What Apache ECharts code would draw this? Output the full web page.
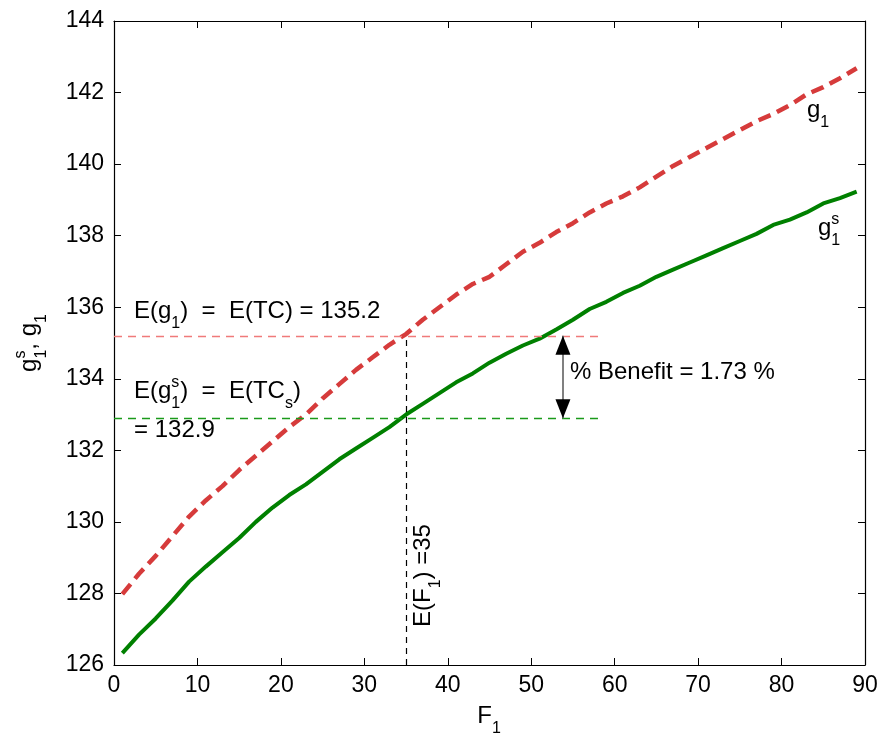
<!DOCTYPE html>
<html>
<head>
<meta charset="utf-8">
<style>
  html, body { margin: 0; padding: 0; background: #fff; }
  #chart { width: 881px; height: 741px; }
</style>
<script src="https://cdn.jsdelivr.net/npm/echarts@6/dist/echarts.min.js"></script>
</head>
<body>
<div id="chart"></div>
<script>
// Sample points of the demand variable F1
const F1 = [1, 3, 5, 7, 9, 11, 13, 15, 17, 19, 21, 23, 25, 27, 29, 31, 33, 35, 37, 39, 41, 43, 45,
            47, 49, 51, 53, 55, 57, 59, 61, 63, 65, 67, 69, 71, 73, 75, 77, 79, 81, 83, 85, 87, 89];

// g1 : cost without sharing
const G1 = [127.98, 128.55, 129.05, 129.6, 130.15, 130.6, 131.0, 131.45, 131.85, 132.25, 132.65, 133.0,
            133.45, 133.85, 134.25, 134.6, 134.95, 135.25, 135.65, 136.0, 136.35, 136.65, 136.85, 137.2,
            137.55, 137.8, 138.1, 138.35, 138.65, 138.9, 139.1, 139.35, 139.65, 139.95, 140.2, 140.45,
            140.7, 140.95, 141.2, 141.4, 141.65, 141.95, 142.15, 142.4, 142.68];

// g1^s : cost with sharing
const G1S = [126.33, 126.85, 127.3, 127.8, 128.33, 128.75, 129.15, 129.55, 130.0, 130.4, 130.75, 131.05,
             131.4, 131.75, 132.05, 132.35, 132.65, 133.0, 133.3, 133.6, 133.9, 134.15, 134.45, 134.7,
             134.93, 135.12, 135.38, 135.65, 135.95, 136.15, 136.4, 136.6, 136.85, 137.05, 137.25, 137.45,
             137.65, 137.85, 138.05, 138.3, 138.45, 138.65, 138.9, 139.05, 139.23];

// Axis ranges: [min, max, step]
const X_RANGE = [0, 90, 10];
const Y_RANGE = [126, 144, 2];

// Expected values and benefit marker
const EXPECTED_F1 = 35;
const EXPECTED_G1 = 135.2;
const EXPECTED_G1S = 132.9;
const GUIDE_END_F1 = 58;
const BENEFIT_F1 = 53.8;
const BENEFIT_PCT = 1.73;

const FONT = '"Liberation Sans", Arial, Helvetica, sans-serif';
const measureCtx = document.createElement('canvas').getContext('2d');
function textW(t, s) { measureCtx.font = s + 'px ' + FONT; return measureCtx.measureText(t).width; }

function txt(t, x, y, s) {
  return {
    type: 'text', x: x, y: y, silent: true,
    style: { text: t, fontSize: s, fontFamily: FONT, fill: '#000', align: 'left', verticalAlign: 'middle' }
  };
}

// Text with TeX-like sub/superscripts: strings are normal runs, {sub, sup} objects are stacked scripts
function mathText(pieces, opt) {
  const size = opt.size, small = Math.round(size * 0.68);
  const subDy = size * 0.52, supDy = size * 0.36;
  const children = [];
  let cx = 0;
  pieces.forEach(function (p) {
    if (typeof p === 'string') {
      children.push(txt(p, cx, 0, size));
      cx += textW(p, size);
    } else {
      let w = 0;
      if (p.sup != null) { children.push(txt(p.sup, cx, -supDy, small)); w = Math.max(w, textW(p.sup, small)); }
      if (p.sub != null) { children.push(txt(p.sub, cx, subDy, small)); w = Math.max(w, textW(p.sub, small)); }
      cx += w;
    }
  });
  if (opt.anchor === 'center') children.forEach(function (c) { c.x -= cx / 2; });
  return { type: 'group', x: opt.x, y: opt.y, rotation: opt.rotation || 0, silent: true, children: children };
}

const chart = echarts.init(document.getElementById('chart'), null, { renderer: 'canvas' });

const axisCommon = {
  type: 'value',
  axisLine: { show: true, onZero: false, lineStyle: { color: '#000', width: 1.2 } },
  axisTick: { show: true, inside: true, length: 7, lineStyle: { color: '#000', width: 1 } },
  splitLine: { show: false }
};

const ANN = 24;
const TICK = 23;

chart.setOption({
  animation: false,
  backgroundColor: '#fff',
  grid: { left: 114, right: 16, top: 21, bottom: 76, containLabel: false },
  xAxis: [
    Object.assign({}, axisCommon, {
      min: X_RANGE[0], max: X_RANGE[1], interval: X_RANGE[2], position: 'bottom',
      axisLabel: { color: '#000', fontSize: TICK, fontFamily: FONT, margin: 9 }
    }),
    Object.assign({}, axisCommon, {
      min: X_RANGE[0], max: X_RANGE[1], interval: X_RANGE[2], position: 'top',
      axisLabel: { show: false }
    })
  ],
  yAxis: [
    Object.assign({}, axisCommon, {
      min: Y_RANGE[0], max: Y_RANGE[1], interval: Y_RANGE[2], position: 'left',
      axisLabel: { color: '#000', fontSize: TICK, fontFamily: FONT, margin: 10 }
    }),
    Object.assign({}, axisCommon, {
      min: Y_RANGE[0], max: Y_RANGE[1], interval: Y_RANGE[2], position: 'right',
      axisLabel: { show: false }
    })
  ],
  series: [
    {
      name: 'g1', type: 'line', symbol: 'none', z: 4,
      data: F1.map(function (f, i) { return [f, G1[i]]; }),
      lineStyle: { color: '#d63b3b', width: 4.5, type: [13, 7] }
    },
    {
      name: 'g1s', type: 'line', symbol: 'none', z: 4,
      data: F1.map(function (f, i) { return [f, G1S[i]]; }),
      lineStyle: { color: '#008000', width: 4 }
    },
    {
      name: 'guides', type: 'line', data: [], z: 3,
      markLine: {
        silent: true, symbol: 'none', label: { show: false }, animation: false,
        data: [
          [{ coord: [X_RANGE[0], EXPECTED_G1], lineStyle: { color: '#f07a7a', width: 1.3, type: [8, 6] } },
           { coord: [GUIDE_END_F1, EXPECTED_G1] }],
          [{ coord: [X_RANGE[0], EXPECTED_G1S], lineStyle: { color: '#1a9a1a', width: 1.3, type: [8, 6] } },
           { coord: [GUIDE_END_F1, EXPECTED_G1S] }],
          [{ coord: [EXPECTED_F1, Y_RANGE[0]], lineStyle: { color: '#000', width: 1.2, type: [6, 5] } },
           { coord: [EXPECTED_F1, EXPECTED_G1] }],
          [{ coord: [BENEFIT_F1, EXPECTED_G1], lineStyle: { color: '#808080', width: 2, type: 'solid' } },
           { coord: [BENEFIT_F1, EXPECTED_G1S] }]
        ]
      },
      markPoint: {
        silent: true, label: { show: false }, animation: false,
        data: [
          { coord: [BENEFIT_F1, EXPECTED_G1], symbol: 'triangle', symbolSize: [15, 19],
            symbolOffset: [0, '50%'], itemStyle: { color: '#000' } },
          { coord: [BENEFIT_F1, EXPECTED_G1S], symbol: 'triangle', symbolSize: [15, 19],
            symbolRotate: 180, symbolOffset: [0, '-50%'], itemStyle: { color: '#000' } }
        ]
      }
    }
  ],
  graphic: [
    mathText(['E(g', { sub: '1' }, ')  =  E(TC) = ' + EXPECTED_G1], { x: 134, y: 311, size: ANN }),
    mathText(['E(g', { sup: 's', sub: '1' }, ')  =  E(TC', { sub: 's' }, ')'], { x: 134, y: 391, size: ANN }),
    mathText(['= ' + EXPECTED_G1S], { x: 134, y: 430, size: ANN }),
    mathText(['% Benefit = ' + BENEFIT_PCT + ' %'], { x: 570, y: 372, size: ANN }),
    mathText(['g', { sub: '1' }], { x: 807, y: 110, size: ANN }),
    mathText(['g', { sup: 's', sub: '1' }], { x: 818, y: 228, size: ANN }),
    mathText(['E(F', { sub: '1' }, ') =' + EXPECTED_F1], { x: 423, y: 627, size: ANN, rotation: Math.PI / 2 }),
    mathText(['F', { sub: '1' }], { x: 489, y: 716, size: ANN, anchor: 'center' }),
    mathText(['g', { sup: 's', sub: '1' }, ', g', { sub: '1' }], { x: 29, y: 343, size: ANN, rotation: Math.PI / 2, anchor: 'center' })
  ]
});
</script>
</body>
</html>
